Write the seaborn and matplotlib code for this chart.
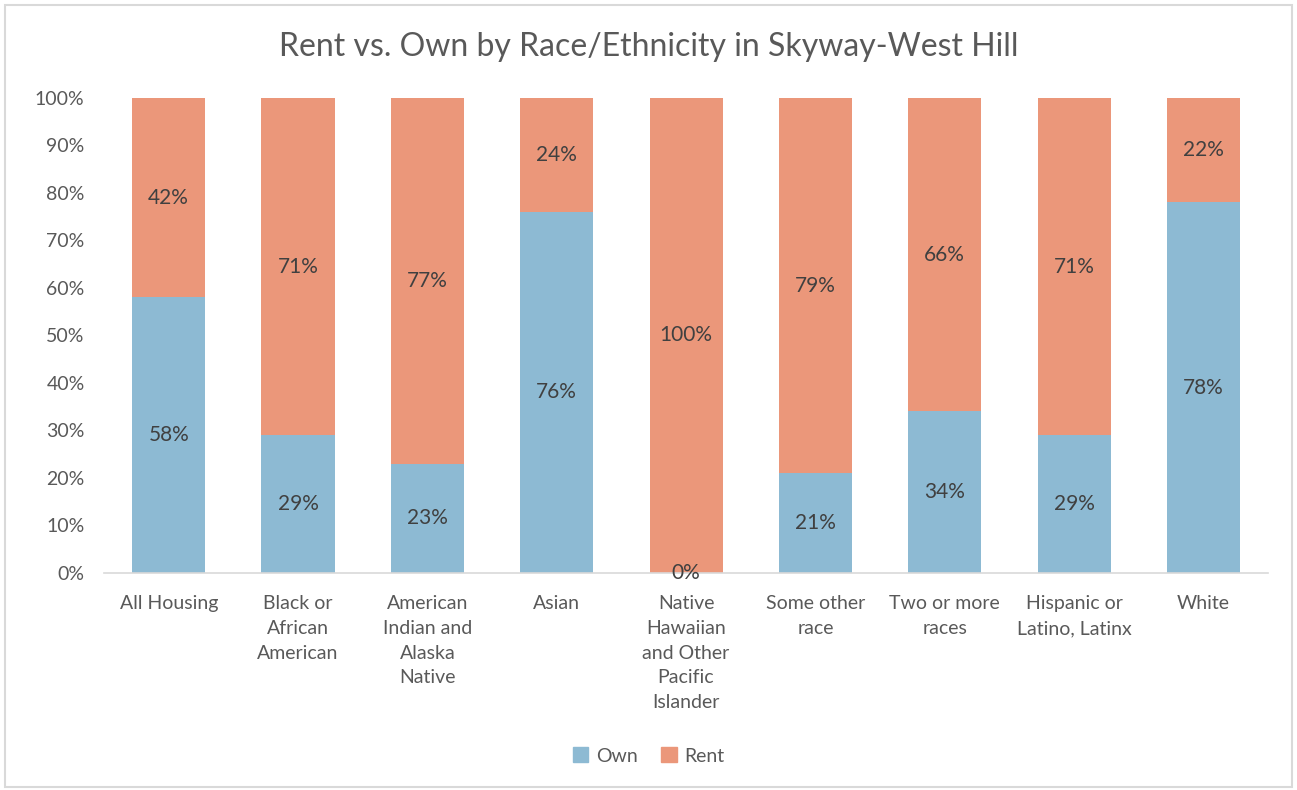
import pandas as pd
import matplotlib.pyplot as plt
import seaborn as sns
from matplotlib.patches import Patch, Rectangle

categories = ['All Housing', 'Black or\nAfrican\nAmerican', 'American\nIndian and\nAlaska\nNative',
              'Asian', 'Native\nHawaiian\nand Other\nPacific\nIslander', 'Some other\nrace',
              'Two or more\nraces', 'Hispanic or\nLatino, Latinx', 'White']
own = [58, 29, 23, 76, 0, 21, 34, 29, 78]
rent = [42, 71, 77, 24, 100, 79, 66, 71, 22]

own_color = '#8DBAD3'
rent_color = '#EB977A'
text_color = '#595959'
label_color = '#404040'

sns.set_style('white')
plt.rcParams['font.family'] = ['Lato', 'DejaVu Sans']

df = pd.DataFrame({'cat': categories, 'own': own, 'rent': rent})
df['total'] = df['own'] + df['rent']

fig = plt.figure(figsize=(12.97, 7.9), dpi=100)
ax = fig.add_axes([0.0802, 0.2747, 0.8975, 0.6013])

sns.barplot(data=df, x='cat', y='total', color=rent_color, width=0.565, saturation=1,
            linewidth=0, ax=ax)
sns.barplot(data=df, x='cat', y='own', color=own_color, width=0.565, saturation=1,
            linewidth=0, ax=ax)

for i, (o, r) in enumerate(zip(own, rent)):
    ax.text(i, o / 2, f'{o}%', ha='center', va='center', fontsize=15, color=label_color)
    ax.text(i, o + r / 2, f'{r}%', ha='center', va='center', fontsize=15, color=label_color)

ax.set_xlim(-0.5, 8.5)
ax.set_ylim(0, 100)
ax.set_yticks(range(0, 101, 10))
ax.set_yticklabels([f'{v}%' for v in range(0, 101, 10)])
ax.set_xlabel('')
ax.set_ylabel('')
ax.tick_params(axis='both', length=0, labelsize=14, colors=text_color)
ax.tick_params(axis='y', pad=14)
ax.tick_params(axis='x', pad=16)
for lbl in ax.get_xticklabels():
    lbl.set_linespacing(1.55)
    lbl.set_va('top')

sns.despine(ax=ax, left=True)
ax.spines['bottom'].set_color('#D9D9D9')
ax.spines['bottom'].set_linewidth(1.2)

fig.text(0.5, 0.94, 'Rent vs. Own by Race/Ethnicity in Skyway-West Hill',
         ha='center', va='center', fontsize=23, color=text_color)

handles = [Patch(color=own_color, label='Own'), Patch(color=rent_color, label='Rent')]
fig.legend(handles=handles, loc='center', bbox_to_anchor=(0.5, 0.043), ncol=2, frameon=False,
           fontsize=14, labelcolor=text_color, handlelength=0.8, handleheight=0.8,
           handletextpad=0.4, columnspacing=1.2)

fig.patches.append(Rectangle((0.004, 0.004), 0.992, 0.99, transform=fig.transFigure,
                             fill=False, edgecolor='#D9D9D9', linewidth=1.5))

fig.savefig('out.png', dpi=100)
